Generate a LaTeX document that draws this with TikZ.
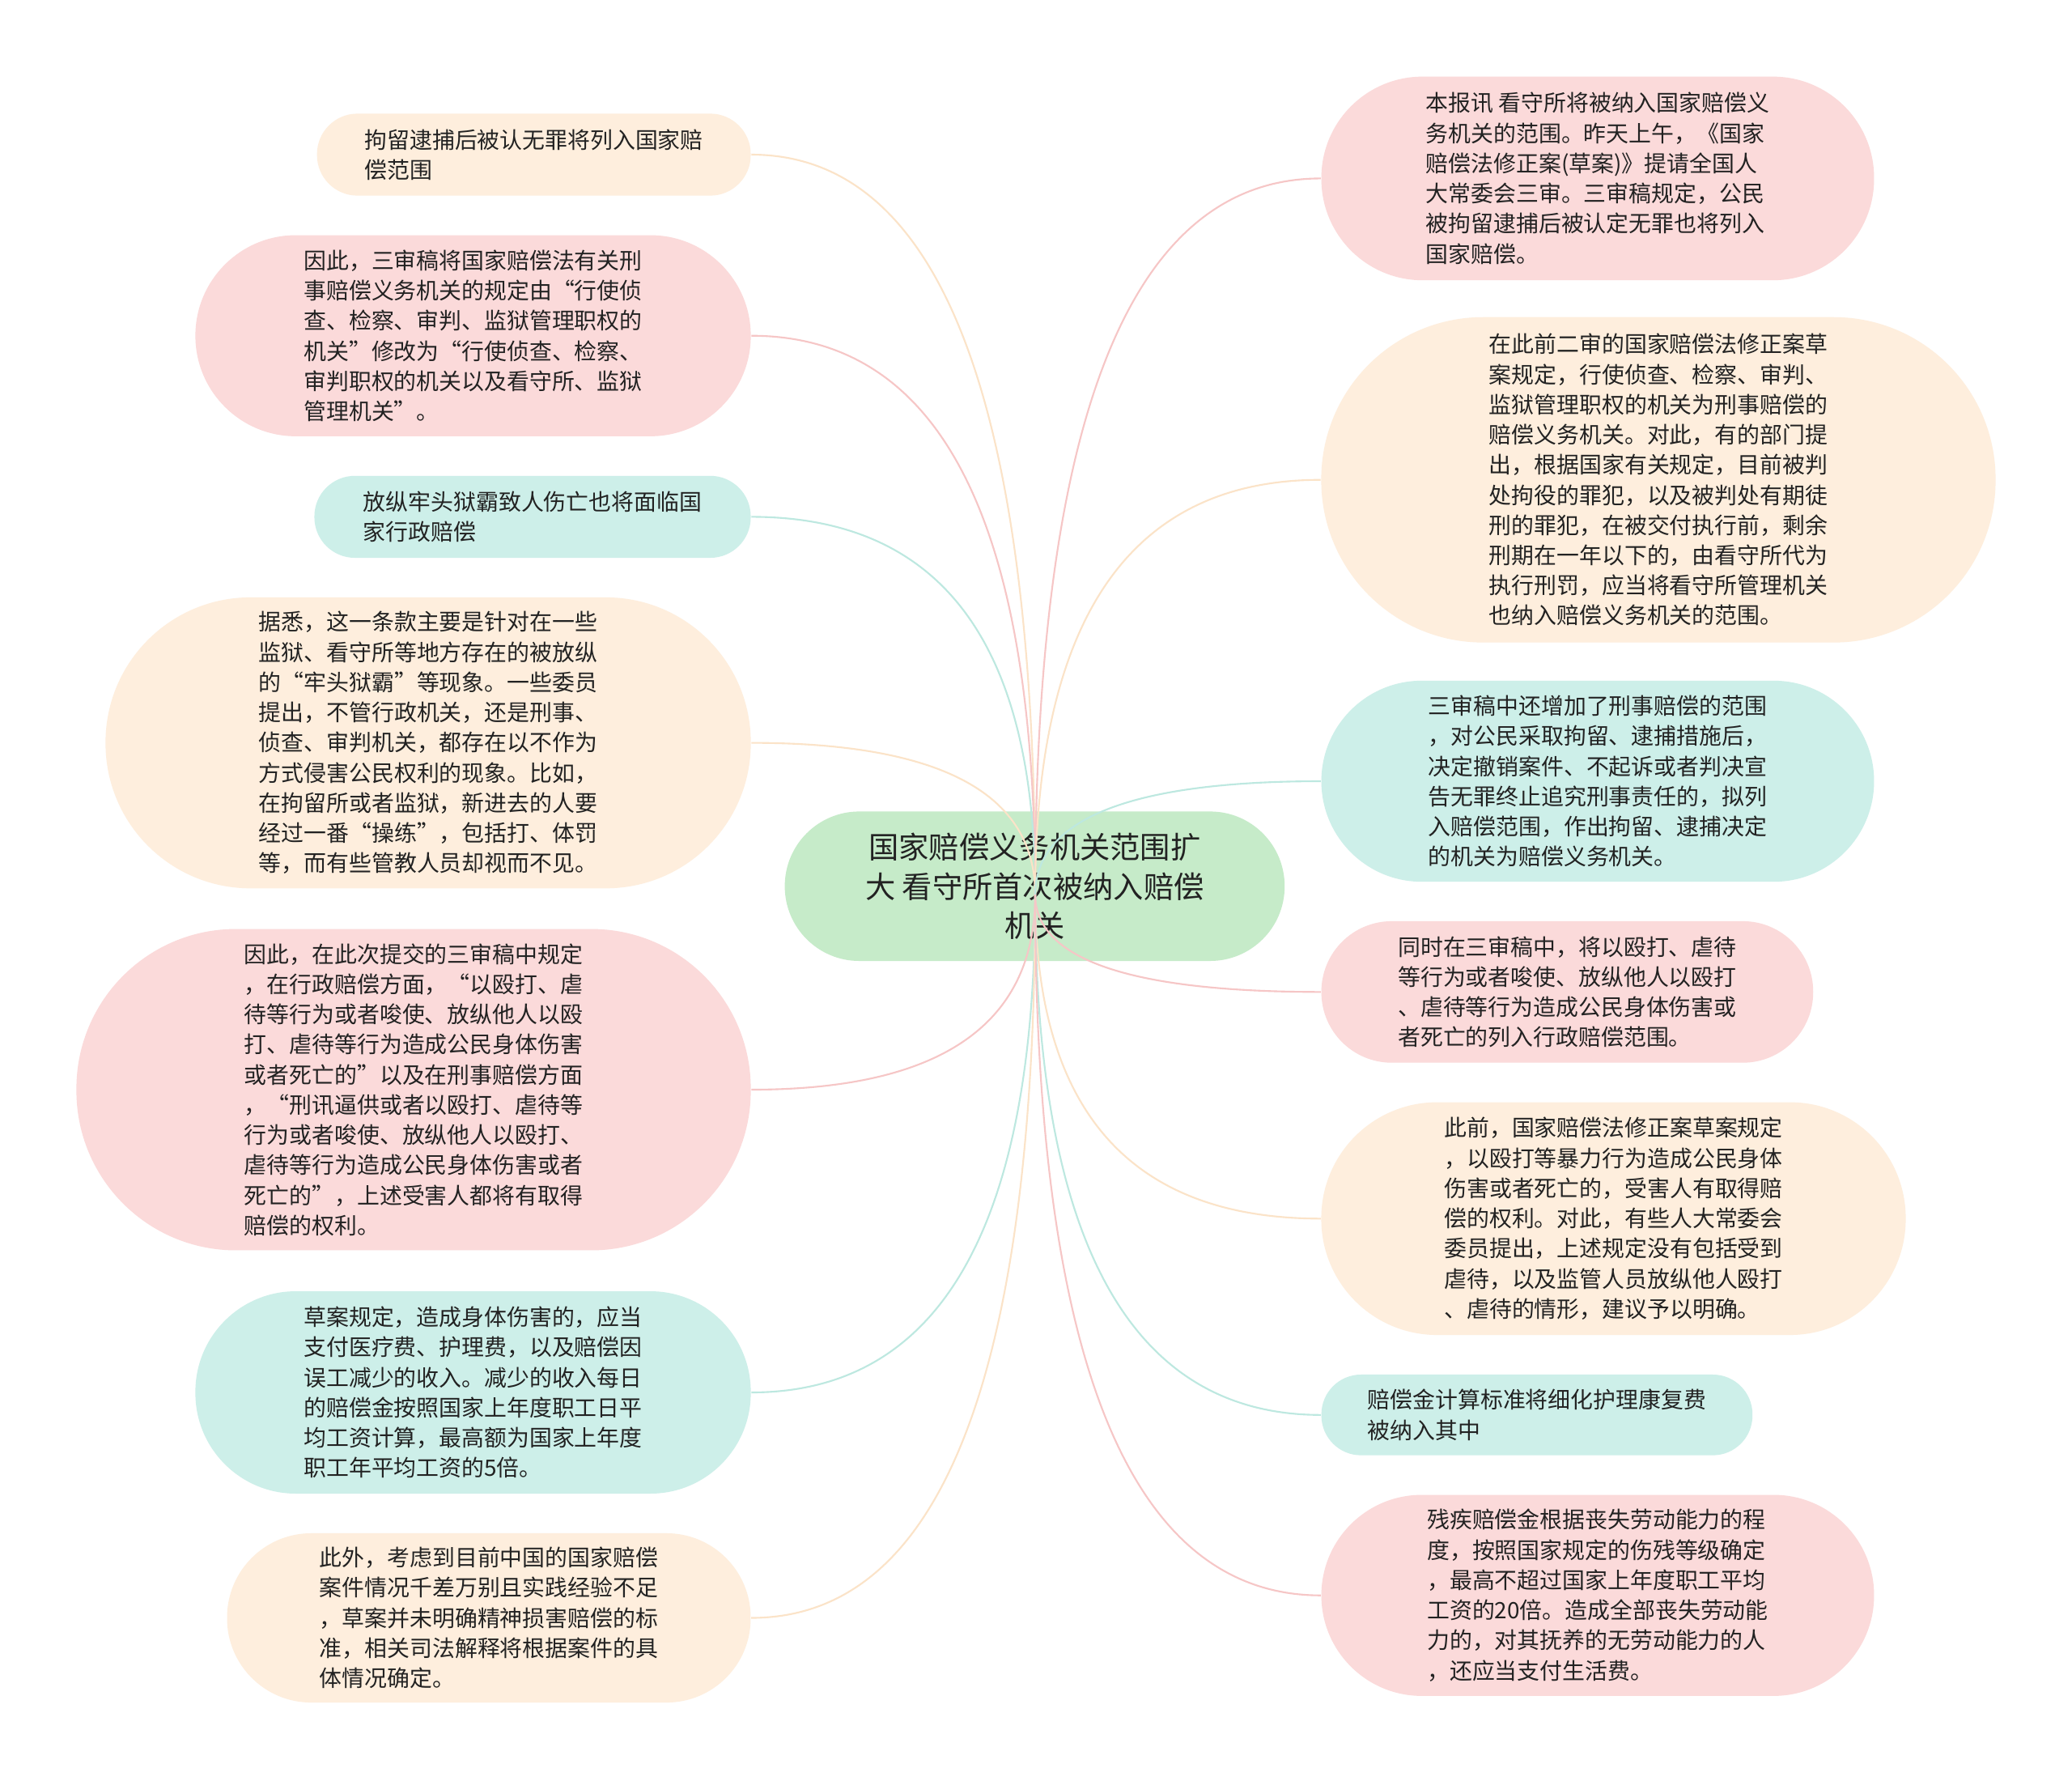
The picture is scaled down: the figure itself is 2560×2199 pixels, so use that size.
\documentclass[tikz,border=0pt]{standalone}
\usepackage{fontspec}
\setmainfont{Noto Sans CJK SC}
\usetikzlibrary{calc}
\definecolor{pinkfill}{HTML}{FBDADA}
\definecolor{peachfill}{HTML}{FEEEDD}
\definecolor{tealfill}{HTML}{CDEFE9}
\definecolor{greenfill}{HTML}{C6EBC9}
\definecolor{pinkline}{HTML}{F6C6C6}
\definecolor{peachline}{HTML}{FBE3C8}
\definecolor{tealline}{HTML}{BDE8E0}
\definecolor{txt}{HTML}{222222}
\newcommand\mmnodefont{\fontsize{7.93pt}{10.59pt}\selectfont}
\newcommand\mmtitlefont{\fontsize{10.6pt}{13.9pt}\selectfont}
\tikzset{
  box/.style={draw=none, inner sep=0pt, align=left, text=txt, font=\mmnodefont},
  link/.style={line width=0.6pt, to path={.. controls ($(\tikztostart)!2/3!(\tikztostart|-\tikztotarget)$) and ($(\tikztotarget)!2/3!(\tikztostart|-\tikztotarget)$) .. (\tikztotarget)}}
}
\begin{document}
\begin{tikzpicture}[x=0.01cm,y=-0.01cm]
\path[use as bounding box, fill=white] (0,0) rectangle (2560,2199);

\node[box, fill=greenfill, minimum width=6.172cm, minimum height=1.845cm, rounded corners=0.92cm, align=center, font=\mmtitlefont] (c) at (1278.4,1094.7) {国家赔偿义务机关范围扩\\大 看守所首次被纳入赔偿\\机关};
\coordinate (hub) at (1279,1105);

% left side
\node[box, fill=peachfill, minimum width=5.356cm, minimum height=1.012cm, rounded corners=0.5cm] (l1) at (659.6,191) {拘留逮捕后被认无罪将列入国家赔\\偿范围};
\node[box, fill=pinkfill, minimum width=6.858cm, minimum height=2.482cm, rounded corners=1.24cm] (l2) at (584.5,414.7) {因此，三审稿将国家赔偿法有关刑\\事赔偿义务机关的规定由“行使侦\\查、检察、审判、监狱管理职权的\\机关”修改为“行使侦查、检察、\\审判职权的机关以及看守所、监狱\\管理机关”。};
\node[box, fill=tealfill, minimum width=5.388cm, minimum height=1.012cm, rounded corners=0.5cm] (l3) at (658,638.4) {放纵牢头狱霸致人伤亡也将面临国\\家行政赔偿};
\node[box, fill=peachfill, minimum width=7.968cm, minimum height=3.592cm, rounded corners=1.79cm] (l4) at (529,917.6) {据悉，这一条款主要是针对在一些\\监狱、看守所等地方存在的被放纵\\的“牢头狱霸”等现象。一些委员\\提出，不管行政机关，还是刑事、\\侦查、审判机关，都存在以不作为\\方式侵害公民权利的现象。比如，\\在拘留所或者监狱，新进去的人要\\经过一番“操练”，包括打、体罚\\等，而有些管教人员却视而不见。};
\node[box, fill=pinkfill, minimum width=8.327cm, minimum height=3.967cm, rounded corners=1.97cm] (l5) at (511,1346) {因此，在此次提交的三审稿中规定\\，在行政赔偿方面，“以殴打、虐\\待等行为或者唆使、放纵他人以殴\\打、虐待等行为造成公民身体伤害\\或者死亡的”以及在刑事赔偿方面\\，“刑讯逼供或者以殴打、虐待等\\行为或者唆使、放纵他人以殴打、\\虐待等行为造成公民身体伤害或者\\死亡的”，上述受害人都将有取得\\赔偿的权利。};
\node[box, fill=tealfill, minimum width=6.858cm, minimum height=2.498cm, rounded corners=1.24cm] (l6) at (584.5,1720) {草案规定，造成身体伤害的，应当\\支付医疗费、护理费，以及赔偿因\\误工减少的收入。减少的收入每日\\的赔偿金按照国家上年度职工日平\\均工资计算，最高额为国家上年度\\职工年平均工资的5倍。};
\node[box, fill=peachfill, minimum width=6.466cm, minimum height=2.09cm, rounded corners=1.04cm] (l7) at (604,1998.5) {此外，考虑到目前中国的国家赔偿\\案件情况千差万别且实践经验不足\\，草案并未明确精神损害赔偿的标\\准，相关司法解释将根据案件的具\\体情况确定。};

% right side
\node[box, fill=pinkfill, minimum width=6.825cm, minimum height=2.514cm, rounded corners=1.25cm] (r1) at (1974,220.4) {本报讯 看守所将被纳入国家赔偿义\\务机关的范围。昨天上午，《国家\\赔偿法修正案(草案)》提请全国人\\大常委会三审。三审稿规定，公民\\被拘留逮捕后被认定无罪也将列入\\国家赔偿。};
\node[box, fill=peachfill, minimum width=8.327cm, minimum height=4.017cm, rounded corners=2.0cm] (r2) at (2049,592.7) {在此前二审的国家赔偿法修正案草\\案规定，行使侦查、检察、审判、\\监狱管理职权的机关为刑事赔偿的\\赔偿义务机关。对此，有的部门提\\出，根据国家有关规定，目前被判\\处拘役的罪犯，以及被判处有期徒\\刑的罪犯，在被交付执行前，剩余\\刑期在一年以下的，由看守所代为\\执行刑罚，应当将看守所管理机关\\也纳入赔偿义务机关的范围。};
\node[box, fill=tealfill, minimum width=6.825cm, minimum height=2.482cm, rounded corners=1.24cm] (r3) at (1974,965) {三审稿中还增加了刑事赔偿的范围\\，对公民采取拘留、逮捕措施后，\\决定撤销案件、不起诉或者判决宣\\告无罪终止追究刑事责任的，拟列\\入赔偿范围，作出拘留、逮捕决定\\的机关为赔偿义务机关。};
\node[box, fill=pinkfill, minimum width=6.073cm, minimum height=1.747cm, rounded corners=0.87cm] (r4) at (1936.4,1225.3) {同时在三审稿中，将以殴打、虐待\\等行为或者唆使、放纵他人以殴打\\、虐待等行为造成公民身体伤害或\\者死亡的列入行政赔偿范围。};
\node[box, fill=peachfill, minimum width=7.217cm, minimum height=2.873cm, rounded corners=1.43cm] (r5) at (1993.5,1505.3) {此前，国家赔偿法修正案草案规定\\，以殴打等暴力行为造成公民身体\\伤害或者死亡的，受害人有取得赔\\偿的权利。对此，有些人大常委会\\委员提出，上述规定没有包括受到\\虐待，以及监管人员放纵他人殴打\\、虐待的情形，建议予以明确。};
\node[box, fill=tealfill, minimum width=5.323cm, minimum height=0.996cm, rounded corners=0.49cm] (r6) at (1898.9,1747.8) {赔偿金计算标准将细化护理康复费\\被纳入其中};
\node[box, fill=pinkfill, minimum width=6.825cm, minimum height=2.482cm, rounded corners=1.24cm] (r7) at (1974,1970.7) {残疾赔偿金根据丧失劳动能力的程\\度，按照国家规定的伤残等级确定\\，最高不超过国家上年度职工平均\\工资的20倍。造成全部丧失劳动能\\力的，对其抚养的无劳动能力的人\\，还应当支付生活费。};

% connectors
\draw[link, peachline] (hub) to (l1.east);
\draw[link, pinkline] (hub) to (l2.east);
\draw[link, tealline] (hub) to (l3.east);
\draw[link, peachline] (hub) to (l4.east);
\draw[link, pinkline] (hub) to (l5.east);
\draw[link, tealline] (hub) to (l6.east);
\draw[link, peachline] (hub) to (l7.east);
\draw[link, pinkline] (hub) to (r1.west);
\draw[link, peachline] (hub) to (r2.west);
\draw[link, tealline] (hub) to (r3.west);
\draw[link, pinkline] (hub) to (r4.west);
\draw[link, peachline] (hub) to (r5.west);
\draw[link, tealline] (hub) to (r6.west);
\draw[link, pinkline] (hub) to (r7.west);
\end{tikzpicture}
\end{document}
